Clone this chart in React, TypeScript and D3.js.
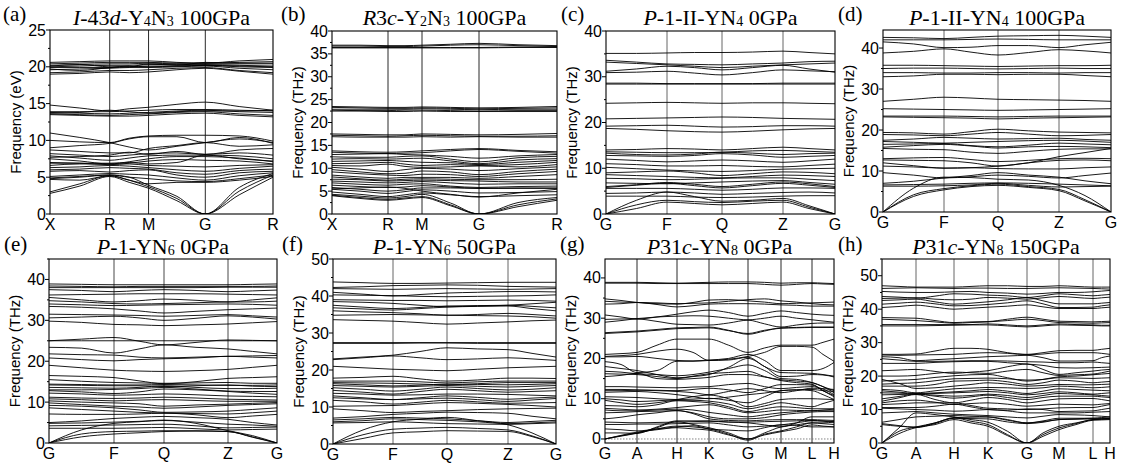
import React from 'react';
import * as d3 from 'd3';

// ---------------- DATA ----------------
// Values at every high-symmetry point and the midpoint of every segment.

const kLabelsA = ['X', 'R', 'M', 'G', 'R'];
const kDistA = [0, 60, 99, 156, 224];
const bandsA: number[][] = [
  [19.0, 19.1, 19.3, 19.2, 19.3, 19.6, 19.8, 19.4, 19.0],
  [19.2, 19.3, 19.5, 19.5, 19.6, 19.8, 19.9, 19.5, 19.2],
  [19.6, 19.7, 19.8, 19.9, 19.9, 20.0, 20.1, 19.8, 19.6],
  [19.9, 19.9, 19.9, 20.0, 20.1, 20.1, 20.2, 20.0, 19.9],
  [20.0, 20.1, 20.2, 20.2, 20.3, 20.3, 20.3, 20.2, 20.1],
  [20.2, 20.3, 20.4, 20.4, 20.5, 20.4, 20.4, 20.4, 20.4],
  [20.4, 20.5, 20.6, 20.6, 20.6, 20.5, 20.5, 20.6, 20.7],
  [20.6, 20.7, 20.8, 20.8, 20.8, 20.6, 20.5, 20.8, 21.0],
  [20.1, 20.3, 20.0, 20.0, 20.4, 20.2, 20.6, 20.5, 20.5],
  [19.7, 19.5, 19.9, 20.1, 20.0, 20.1, 20.2, 20.1, 20.0],
  [14.8, 14.4, 14.0, 14.3, 14.5, 14.9, 15.2, 14.6, 14.1],
  [13.9, 13.9, 13.9, 14.0, 14.1, 14.2, 14.2, 14.1, 14.0],
  [13.8, 13.7, 13.6, 13.7, 13.8, 14.0, 14.1, 13.9, 13.8],
  [13.6, 13.5, 13.4, 13.5, 13.6, 13.8, 13.9, 13.6, 13.4],
  [13.5, 13.4, 13.3, 13.3, 13.4, 13.6, 13.7, 13.4, 13.2],
  [13.7, 13.8, 14.1, 13.9, 13.7, 13.9, 14.0, 14.0, 14.1],
  [11.0, 10.4, 9.7, 9.1, 8.7, 9.2, 9.7, 10.2, 9.7],
  [10.0, 9.8, 9.7, 10.3, 10.6, 10.7, 10.7, 10.6, 9.9],
  [9.0, 9.3, 9.6, 10.2, 10.5, 10.5, 9.7, 10.4, 9.6],
  [8.7, 8.5, 8.3, 8.3, 8.9, 9.3, 9.7, 9.2, 9.4],
  [8.2, 8.0, 7.8, 8.0, 8.2, 8.3, 8.1, 8.3, 8.0],
  [7.9, 7.6, 7.3, 7.6, 7.9, 8.0, 8.0, 7.9, 7.5],
  [7.5, 7.2, 6.8, 7.1, 7.5, 7.8, 7.8, 7.6, 7.1],
  [7.0, 6.9, 6.7, 6.9, 7.2, 7.4, 7.3, 7.2, 6.8],
  [6.6, 6.8, 6.8, 6.8, 6.6, 6.5, 6.4, 6.6, 6.7],
  [6.3, 6.4, 6.6, 6.5, 6.3, 6.0, 5.8, 6.2, 6.5],
  [6.0, 6.1, 6.3, 6.2, 6.1, 5.6, 5.4, 5.9, 6.1],
  [5.8, 5.9, 5.7, 5.9, 6.0, 5.3, 5.0, 5.6, 5.8],
  [5.1, 5.3, 5.5, 5.4, 5.3, 4.9, 4.6, 5.2, 5.6],
  [4.9, 5.1, 5.3, 5.0, 4.8, 4.5, 4.4, 4.8, 5.3],
  [4.7, 4.6, 5.2, 4.6, 4.1, 4.3, 4.3, 4.6, 5.1],
  [6.9, 6.9, 6.9, 7.0, 6.8, 7.0, 8.0, 7.5, 7.2],
  [7.7, 7.8, 8.0, 8.4, 8.1, 8.5, 8.1, 8.7, 8.9],
  [2.8, 3.8, 5.1, 4.3, 3.5, 1.8, 0, 2.6, 5.0],
  [3.0, 4.1, 5.2, 4.6, 3.7, 2.1, 0, 3.1, 5.3],
  [4.8, 5.0, 5.3, 5.0, 3.9, 2.4, 0, 3.6, 5.5],
];

const kLabelsB = ['X', 'R', 'M', 'G', 'R'];
const kDistB = [0, 56, 90, 147, 225];
const bandsB: number[][] = [
  [36.9, 36.9, 36.8, 36.8, 36.9, 37.1, 37.3, 37.0, 36.8],
  [36.7, 36.7, 36.6, 36.6, 36.7, 36.9, 37.0, 36.8, 36.6],
  [36.4, 36.4, 36.4, 36.4, 36.4, 36.4, 36.4, 36.5, 36.5],
  [36.3, 36.3, 36.3, 36.3, 36.3, 36.3, 36.3, 36.4, 36.4],
  [23.5, 23.4, 23.3, 23.3, 23.4, 23.3, 23.2, 23.3, 23.5],
  [23.3, 23.2, 23.1, 23.1, 23.2, 23.1, 23.0, 23.1, 23.2],
  [22.9, 22.9, 22.9, 22.9, 23.0, 22.9, 22.8, 22.9, 22.9],
  [22.7, 22.6, 22.6, 22.7, 22.7, 22.6, 22.5, 22.6, 22.6],
  [22.5, 22.5, 22.4, 22.4, 22.5, 22.4, 22.4, 22.4, 22.4],
  [17.5, 17.4, 17.3, 17.3, 17.5, 17.4, 17.3, 17.4, 17.6],
  [17.2, 17.1, 17.0, 17.1, 17.2, 17.1, 17.0, 17.0, 17.1],
  [16.9, 16.8, 16.8, 16.8, 16.9, 16.8, 16.9, 16.8, 16.8],
  [13.8, 13.6, 13.5, 13.6, 13.8, 14.1, 14.3, 13.9, 13.6],
  [13.5, 13.3, 13.2, 13.3, 13.4, 13.8, 14.1, 13.7, 13.3],
  [13.0, 13.1, 13.2, 13.0, 12.9, 12.6, 12.2, 12.7, 13.0],
  [12.5, 12.4, 12.4, 12.6, 12.7, 12.0, 11.4, 12.3, 12.6],
  [12.0, 12.1, 12.0, 12.1, 12.2, 11.6, 11.0, 11.8, 12.1],
  [11.5, 11.6, 11.7, 11.5, 11.3, 11.2, 10.8, 11.3, 11.7],
  [11.0, 11.1, 11.3, 10.9, 10.6, 10.8, 10.6, 10.8, 11.3],
  [10.6, 10.5, 10.9, 10.4, 10.2, 10.3, 10.5, 10.3, 10.8],
  [10.2, 9.8, 9.3, 9.7, 10.0, 9.8, 9.5, 9.9, 10.3],
  [9.7, 9.2, 8.8, 8.9, 9.4, 9.2, 8.6, 9.3, 9.8],
  [9.2, 8.8, 8.5, 8.4, 8.7, 8.6, 8.2, 8.8, 9.3],
  [8.5, 8.1, 7.8, 8.0, 8.0, 8.0, 7.8, 8.2, 8.6],
  [8.1, 7.7, 7.4, 7.6, 7.7, 7.6, 7.5, 7.5, 7.6],
  [7.6, 7.5, 7.2, 7.3, 7.4, 7.3, 7.2, 7.0, 7.0],
  [7.2, 7.0, 6.8, 6.9, 7.1, 6.8, 6.5, 6.6, 6.6],
  [6.8, 6.5, 6.3, 6.5, 6.6, 6.1, 5.8, 6.0, 6.1],
  [6.3, 6.0, 5.8, 5.9, 6.2, 5.9, 5.6, 5.7, 5.7],
  [5.8, 5.4, 5.0, 5.3, 5.7, 5.7, 5.6, 5.6, 5.6],
  [5.4, 5.0, 4.5, 4.9, 5.3, 5.0, 4.6, 4.7, 4.9],
  [4.8, 4.3, 3.8, 4.2, 4.6, 4.2, 3.8, 4.0, 4.2],
  [5.5, 5.7, 5.9, 5.6, 5.0, 4.3, 3.7, 4.6, 5.4],
  [4.1, 3.6, 3.2, 3.5, 3.8, 2.0, 0, 2.0, 3.3],
  [4.0, 3.4, 3.0, 3.3, 3.6, 1.8, 0, 1.6, 3.0],
  [4.3, 3.9, 3.5, 3.8, 4.3, 2.4, 0, 2.5, 3.6],
];

const kLabelsC = ['G', 'F', 'Q', 'Z', 'G'];
const kDistC = [0, 61, 116, 177, 229];
const bandsC: number[][] = [
  [35.1, 35.1, 35.2, 35.3, 35.3, 35.4, 35.6, 35.3, 35.0],
  [33.6, 33.2, 32.8, 32.7, 32.6, 32.8, 33.0, 33.3, 33.4],
  [33.2, 32.9, 32.6, 32.3, 32.0, 32.3, 32.6, 32.8, 33.0],
  [31.2, 31.7, 32.3, 32.0, 31.5, 32.0, 32.5, 31.7, 31.0],
  [30.9, 31.0, 31.2, 30.8, 30.4, 30.9, 31.5, 31.3, 31.1],
  [28.6, 28.6, 28.5, 28.5, 28.5, 28.5, 28.6, 28.6, 28.6],
  [28.4, 28.4, 28.4, 28.4, 28.4, 28.4, 28.4, 28.4, 28.4],
  [24.2, 24.3, 24.4, 24.3, 24.2, 24.3, 24.3, 24.2, 24.1],
  [20.8, 20.9, 21.0, 21.1, 21.2, 21.1, 20.9, 20.8, 20.7],
  [19.2, 19.3, 19.4, 19.2, 19.0, 19.1, 19.3, 19.3, 19.2],
  [18.7, 18.5, 18.2, 18.0, 17.9, 18.1, 18.4, 18.6, 18.7],
  [14.0, 14.1, 14.3, 14.2, 14.0, 14.3, 14.6, 14.3, 14.0],
  [13.6, 13.5, 13.4, 13.4, 13.5, 13.8, 13.9, 13.7, 13.5],
  [13.3, 13.0, 12.9, 13.1, 13.5, 13.3, 13.0, 13.2, 13.3],
  [12.8, 12.7, 12.6, 12.8, 13.2, 12.9, 12.4, 12.6, 12.8],
  [12.0, 11.7, 11.4, 11.6, 11.8, 11.6, 11.3, 11.6, 12.0],
  [11.0, 10.8, 10.5, 10.5, 10.6, 10.4, 10.3, 10.6, 10.9],
  [10.2, 9.9, 9.6, 9.4, 9.3, 9.5, 9.8, 9.9, 10.0],
  [9.0, 9.2, 9.4, 9.0, 8.4, 8.8, 9.2, 9.1, 8.8],
  [8.6, 8.4, 8.2, 8.0, 7.9, 8.2, 8.5, 8.4, 8.2],
  [7.8, 7.7, 7.5, 7.6, 7.8, 7.9, 7.9, 7.6, 7.3],
  [6.8, 6.7, 6.6, 6.8, 7.0, 7.2, 7.3, 6.9, 6.5],
  [6.0, 6.4, 6.9, 6.5, 6.0, 6.5, 7.0, 6.6, 6.0],
  [5.8, 6.3, 6.7, 6.2, 5.7, 6.2, 6.7, 6.3, 5.8],
  [5.6, 5.6, 5.6, 5.4, 5.2, 5.4, 5.7, 5.7, 5.6],
  [4.5, 4.6, 4.8, 4.6, 4.3, 4.5, 4.7, 4.8, 4.6],
  [3.9, 3.9, 3.9, 3.7, 3.6, 3.7, 3.9, 4.0, 4.0],
  [0, 3.0, 4.8, 3.8, 2.8, 3.0, 3.4, 1.8, 0],
  [0, 2.0, 3.0, 2.7, 2.5, 2.8, 3.0, 1.5, 0],
  [0, 1.2, 2.6, 2.3, 2.0, 2.3, 2.6, 1.2, 0],
];

const kLabelsD = ['G', 'F', 'Q', 'Z', 'G'];
const kDistD = [0, 61, 115, 176, 228];
const bandsD: number[][] = [
  [42.6, 42.5, 42.3, 42.6, 42.9, 43.0, 43.1, 42.9, 42.6],
  [42.0, 42.0, 42.0, 42.1, 42.2, 42.1, 42.0, 42.0, 42.0],
  [41.5, 41.0, 40.1, 40.2, 40.6, 40.6, 40.1, 40.8, 41.4],
  [38.8, 39.2, 39.8, 39.0, 38.3, 38.9, 39.6, 39.3, 38.8],
  [35.8, 35.8, 35.7, 35.6, 35.5, 35.6, 35.7, 35.7, 35.8],
  [35.0, 35.1, 35.1, 35.0, 34.9, 35.0, 35.1, 35.0, 35.0],
  [34.0, 34.0, 33.9, 33.9, 34.0, 34.0, 33.9, 34.0, 34.0],
  [33.0, 33.2, 33.6, 33.6, 33.5, 33.6, 33.6, 33.3, 33.0],
  [27.0, 27.5, 28.0, 27.8, 27.5, 27.4, 27.3, 27.2, 27.0],
  [25.2, 25.1, 25.0, 24.9, 24.8, 24.9, 25.0, 25.1, 25.2],
  [23.4, 23.4, 23.4, 23.3, 23.2, 23.3, 23.4, 23.4, 23.4],
  [23.2, 23.1, 23.0, 22.9, 22.7, 22.9, 23.0, 23.1, 23.2],
  [19.4, 19.3, 19.0, 19.6, 20.2, 19.8, 19.5, 19.4, 19.3],
  [18.9, 18.8, 18.6, 19.0, 19.4, 19.0, 18.6, 18.7, 18.9],
  [17.5, 17.8, 18.2, 18.0, 17.8, 17.9, 18.0, 17.7, 17.5],
  [17.2, 17.0, 16.8, 17.0, 17.2, 17.4, 17.5, 17.3, 17.0],
  [16.5, 16.6, 16.7, 16.2, 15.9, 16.3, 16.8, 16.6, 16.4],
  [15.8, 16.2, 16.5, 16.1, 15.6, 15.9, 16.0, 15.9, 15.7],
  [15.5, 15.3, 15.2, 14.6, 14.3, 14.8, 15.3, 15.4, 15.4],
  [13.0, 13.2, 13.3, 12.8, 12.3, 12.6, 13.0, 13.1, 13.0],
  [12.7, 12.6, 12.5, 12.0, 11.2, 12.0, 12.6, 12.7, 12.5],
  [12.0, 11.3, 10.7, 10.8, 11.2, 12.0, 13.5, 14.5, 15.5],
  [11.2, 11.0, 10.7, 10.8, 10.6, 10.5, 10.5, 10.8, 11.0],
  [9.6, 9.0, 8.3, 8.6, 9.0, 8.7, 8.3, 8.9, 9.5],
  [7.0, 7.5, 8.3, 8.9, 9.6, 9.0, 8.5, 7.6, 6.9],
  [6.6, 6.7, 6.8, 7.0, 7.1, 7.0, 6.8, 6.6, 6.4],
  [6.3, 6.3, 6.4, 6.6, 7.0, 6.5, 6.1, 6.2, 6.3],
  [0, 5.8, 8.5, 8.4, 8.0, 7.8, 6.5, 4.0, 0],
  [0, 4.2, 5.7, 6.4, 6.8, 6.2, 5.5, 3.0, 0],
  [0, 3.8, 5.4, 6.2, 6.5, 6.0, 5.2, 2.7, 0],
];

const kLabelsE = ['G', 'F', 'Q', 'Z', 'G'];
const kDistE = [0, 65, 115, 179, 228];
const bandsE: number[][] = [
  [38.9, 38.8, 38.7, 38.7, 38.7, 38.7, 38.7, 38.8, 38.9],
  [38.4, 38.3, 38.2, 38.3, 38.3, 38.3, 38.3, 38.3, 38.4],
  [38.0, 38.0, 38.0, 38.0, 38.0, 38.0, 38.1, 38.1, 38.1],
  [37.5, 37.3, 37.0, 37.3, 37.5, 37.3, 37.0, 37.2, 37.4],
  [36.2, 36.3, 36.4, 36.5, 36.5, 36.5, 36.4, 36.3, 36.2],
  [35.6, 35.0, 34.5, 34.8, 35.2, 34.9, 34.5, 35.0, 35.5],
  [34.8, 34.5, 34.1, 34.0, 34.1, 34.3, 34.5, 34.5, 34.7],
  [34.0, 33.8, 33.6, 33.7, 33.8, 33.9, 34.0, 33.9, 33.7],
  [33.4, 33.2, 32.8, 32.3, 31.8, 32.2, 32.6, 32.8, 33.0],
  [31.5, 31.4, 31.3, 31.2, 31.0, 31.2, 31.4, 31.1, 30.8],
  [30.6, 30.8, 31.0, 30.6, 30.0, 30.5, 31.1, 30.8, 30.3],
  [29.8, 29.5, 29.0, 28.9, 28.7, 28.9, 29.1, 29.4, 29.7],
  [25.0, 25.0, 25.0, 25.0, 25.0, 25.0, 25.0, 25.0, 25.0],
  [25.0, 25.4, 25.8, 24.9, 24.0, 24.6, 25.2, 25.1, 25.0],
  [23.4, 23.2, 22.0, 23.0, 24.0, 23.4, 23.0, 22.4, 21.8],
  [21.8, 21.6, 21.5, 21.0, 20.8, 21.0, 21.2, 21.3, 21.4],
  [20.8, 20.4, 20.1, 20.4, 20.6, 20.8, 21.2, 21.0, 20.8],
  [19.0, 18.4, 17.8, 17.6, 17.5, 17.7, 18.0, 18.5, 19.0],
  [16.5, 16.3, 16.0, 15.2, 14.5, 15.0, 15.8, 16.0, 16.2],
  [15.5, 15.1, 14.8, 14.7, 14.6, 14.7, 14.8, 14.6, 14.6],
  [14.4, 14.3, 14.2, 14.2, 14.3, 14.2, 14.1, 14.1, 14.2],
  [14.2, 14.1, 14.0, 14.0, 13.8, 14.0, 14.2, 13.9, 13.8],
  [13.6, 13.5, 13.4, 13.6, 14.0, 13.6, 13.3, 13.3, 13.4],
  [13.0, 13.0, 13.1, 13.3, 13.6, 13.2, 12.7, 12.6, 12.6],
  [12.8, 12.5, 12.1, 12.5, 13.2, 13.0, 12.6, 12.2, 11.9],
  [12.2, 12.0, 11.7, 11.8, 12.0, 11.8, 11.5, 11.4, 11.3],
  [11.2, 11.0, 10.9, 11.0, 11.2, 11.0, 10.7, 10.6, 10.5],
  [10.8, 10.6, 10.3, 10.5, 10.6, 10.4, 10.2, 10.2, 10.2],
  [10.3, 10.0, 9.8, 9.6, 9.0, 9.3, 9.5, 9.7, 9.9],
  [9.8, 9.4, 9.0, 8.8, 8.5, 8.8, 9.2, 9.4, 9.6],
  [9.2, 9.0, 8.6, 8.1, 7.5, 7.6, 7.8, 8.2, 8.6],
  [8.6, 8.2, 7.8, 7.5, 7.3, 7.2, 7.1, 7.4, 7.8],
  [7.1, 7.0, 7.0, 7.1, 7.3, 6.9, 6.2, 6.6, 7.0],
  [5.0, 5.4, 6.0, 6.3, 6.5, 6.2, 5.8, 5.0, 4.4],
  [4.8, 4.9, 5.1, 5.3, 5.5, 5.1, 4.6, 4.4, 4.1],
  [4.2, 4.3, 4.4, 4.5, 4.6, 4.2, 3.7, 3.8, 3.9],
  [3.6, 3.6, 3.6, 3.7, 3.8, 3.5, 3.2, 3.3, 3.4],
  [0, 3.2, 4.8, 5.2, 5.6, 4.8, 3.0, 1.8, 0],
  [0, 2.2, 2.8, 2.9, 3.0, 3.0, 2.8, 1.5, 0],
  [0, 1.5, 2.2, 2.5, 2.8, 2.9, 2.8, 1.4, 0],
];

const kLabelsF = ['G', 'F', 'Q', 'Z', 'G'];
const kDistF = [0, 60, 114, 175, 223];
const bandsF: number[][] = [
  [43.8, 43.6, 43.4, 43.4, 43.5, 43.6, 43.7, 43.7, 43.7],
  [42.3, 42.5, 42.8, 42.9, 43.0, 42.9, 42.6, 42.5, 42.4],
  [42.0, 41.9, 41.8, 41.9, 42.0, 41.9, 41.8, 41.9, 42.0],
  [41.0, 40.5, 40.0, 40.4, 40.8, 41.0, 41.2, 41.2, 41.1],
  [40.3, 40.2, 40.1, 39.9, 39.8, 39.9, 40.0, 40.1, 40.3],
  [39.0, 38.9, 38.8, 38.8, 38.7, 38.8, 38.9, 38.8, 38.6],
  [38.5, 38.3, 38.0, 37.5, 37.1, 37.3, 37.5, 37.9, 38.3],
  [37.5, 37.0, 36.6, 36.9, 37.3, 37.4, 37.5, 37.2, 36.8],
  [36.8, 36.5, 36.2, 36.6, 37.0, 37.2, 37.3, 36.6, 36.0],
  [36.0, 35.7, 35.5, 35.2, 34.8, 35.0, 35.3, 35.0, 34.6],
  [34.8, 34.9, 35.0, 34.9, 34.8, 34.7, 34.6, 34.4, 34.0],
  [33.6, 33.4, 33.2, 32.8, 32.4, 32.7, 33.0, 33.3, 33.5],
  [27.4, 27.4, 27.4, 27.4, 27.4, 27.4, 27.4, 27.4, 27.4],
  [27.2, 27.2, 27.2, 27.3, 27.3, 27.2, 27.2, 27.2, 27.2],
  [23.0, 23.5, 24.0, 25.0, 26.0, 25.7, 25.5, 24.5, 23.5],
  [22.8, 23.3, 23.8, 23.3, 22.8, 23.0, 23.3, 23.0, 22.6],
  [21.0, 20.6, 20.2, 20.0, 19.8, 20.2, 20.6, 20.8, 21.0],
  [17.8, 18.0, 18.3, 17.6, 17.0, 17.3, 17.8, 17.8, 17.7],
  [17.0, 17.0, 17.0, 16.8, 16.5, 16.8, 17.0, 17.0, 17.0],
  [16.6, 16.5, 16.4, 16.2, 16.0, 16.3, 16.6, 16.6, 16.6],
  [16.3, 16.0, 15.7, 15.9, 16.2, 16.1, 16.0, 16.1, 16.3],
  [15.8, 15.6, 15.4, 15.6, 15.8, 15.6, 15.4, 15.6, 15.8],
  [15.2, 14.8, 14.3, 14.8, 15.4, 15.0, 14.6, 14.8, 15.2],
  [14.5, 14.0, 13.5, 14.2, 14.8, 14.4, 14.0, 14.2, 14.4],
  [13.7, 13.5, 13.2, 13.3, 13.5, 13.5, 13.4, 13.2, 13.0],
  [13.0, 12.5, 12.0, 12.5, 13.0, 12.6, 12.1, 12.4, 12.7],
  [12.5, 12.2, 12.0, 12.2, 12.4, 12.0, 11.5, 11.9, 12.3],
  [11.8, 11.4, 10.8, 11.3, 11.8, 11.4, 11.0, 11.1, 11.2],
  [10.2, 10.3, 10.4, 10.8, 11.2, 11.0, 10.7, 10.4, 10.0],
  [9.5, 9.0, 8.5, 8.8, 9.0, 9.3, 9.5, 9.6, 9.7],
  [7.0, 7.4, 8.0, 8.3, 8.6, 8.5, 8.3, 7.5, 6.8],
  [6.5, 6.8, 7.2, 7.0, 6.8, 6.3, 5.8, 6.1, 6.4],
  [6.0, 6.3, 6.8, 6.6, 6.4, 6.0, 5.5, 5.7, 6.0],
  [5.7, 5.8, 6.0, 5.8, 5.5, 5.4, 5.3, 5.5, 5.7],
  [0, 3.8, 6.0, 6.7, 7.2, 6.3, 5.2, 3.0, 0],
  [0, 2.5, 4.0, 4.3, 4.5, 4.2, 3.8, 2.2, 0],
  [0, 1.5, 3.0, 3.3, 3.6, 3.5, 3.4, 2.0, 0],
];

const kLabelsG = ['G', 'A', 'H', 'K', 'G', 'M', 'L', 'H'];
const kDistG = [0, 32, 72, 104, 143, 176, 207, 229];
const bandsG: number[][] = [
  [38.9, 38.9, 38.9, 38.8, 38.7, 38.8, 38.9, 39.0, 39.0, 38.9, 38.7, 38.8, 38.8, 38.7, 38.6],
  [38.7, 38.7, 38.7, 38.6, 38.6, 38.6, 38.6, 38.6, 38.6, 38.4, 38.2, 38.4, 38.6, 38.5, 38.4],
  [34.8, 34.4, 33.9, 33.6, 33.5, 33.9, 34.5, 34.6, 34.3, 34.0, 33.6, 33.7, 33.8, 33.9, 34.0],
  [34.2, 34.0, 33.9, 33.8, 33.6, 33.7, 33.8, 34.2, 34.6, 34.8, 34.3, 34.0, 33.6, 33.4, 33.3],
  [33.5, 33.6, 33.9, 33.4, 32.8, 33.1, 33.5, 33.6, 33.6, 33.5, 33.3, 33.2, 33.0, 33.0, 33.0],
  [30.8, 30.3, 29.8, 30.3, 31.0, 31.6, 32.0, 31.4, 30.5, 31.2, 31.8, 31.4, 31.0, 30.8, 30.7],
  [29.7, 29.8, 29.9, 30.3, 30.5, 30.6, 30.5, 30.0, 29.6, 30.0, 30.5, 30.0, 29.6, 29.3, 29.0],
  [29.0, 29.4, 29.8, 29.2, 28.5, 28.4, 28.3, 28.8, 29.5, 28.6, 27.8, 28.3, 28.7, 28.8, 28.8],
  [26.4, 26.6, 26.8, 27.2, 27.6, 27.7, 27.8, 27.0, 26.0, 26.8, 27.6, 27.7, 27.8, 27.8, 27.8],
  [26.2, 26.4, 26.6, 27.0, 27.4, 27.5, 27.6, 26.9, 26.2, 27.0, 27.5, 27.6, 27.7, 27.7, 27.7],
  [21.0, 21.2, 21.5, 23.3, 24.8, 24.8, 24.8, 23.3, 21.5, 22.6, 23.3, 23.3, 23.3, 24.0, 24.8],
  [20.5, 20.7, 21.0, 21.8, 22.3, 21.5, 19.5, 19.8, 20.5, 21.5, 23.0, 23.0, 22.8, 21.0, 19.3],
  [20.4, 20.4, 20.5, 20.0, 19.5, 19.4, 19.6, 20.0, 21.0, 19.5, 17.0, 17.0, 17.0, 17.5, 19.0],
  [19.2, 18.5, 16.5, 17.0, 19.3, 19.3, 19.5, 19.6, 20.3, 18.0, 16.5, 16.4, 16.3, 16.0, 15.6],
  [18.0, 17.5, 17.0, 16.0, 15.2, 15.5, 16.0, 17.8, 20.0, 18.0, 15.5, 15.6, 16.0, 15.9, 15.4],
  [16.8, 16.6, 16.2, 16.0, 15.7, 16.0, 16.6, 17.5, 18.4, 17.0, 15.0, 14.8, 14.0, 13.0, 12.0],
  [16.2, 16.1, 16.0, 15.5, 15.0, 15.6, 16.2, 16.5, 16.8, 15.5, 14.5, 14.0, 13.6, 12.0, 10.8],
  [15.5, 15.8, 16.3, 15.0, 14.8, 15.0, 15.3, 16.0, 16.0, 15.4, 14.7, 14.4, 14.0, 13.0, 11.5],
  [13.0, 13.0, 12.9, 12.8, 12.7, 12.9, 13.0, 13.5, 13.8, 13.0, 12.5, 12.8, 13.0, 12.4, 11.0],
  [12.3, 12.3, 12.2, 12.1, 12.0, 12.3, 12.6, 12.2, 11.5, 12.5, 13.5, 13.5, 13.4, 12.0, 10.5],
  [12.0, 12.0, 12.1, 12.0, 11.8, 11.5, 11.0, 11.8, 12.5, 12.0, 11.5, 12.0, 12.6, 12.5, 12.3],
  [11.6, 11.7, 11.8, 11.5, 11.0, 10.5, 10.0, 10.4, 11.0, 11.4, 12.0, 12.2, 12.3, 12.0, 11.8],
  [10.5, 10.4, 10.3, 10.0, 9.8, 9.9, 10.1, 9.6, 9.0, 10.5, 12.0, 12.2, 12.0, 11.0, 9.8],
  [10.0, 9.7, 9.3, 9.5, 9.8, 10.5, 10.9, 10.0, 8.0, 8.8, 9.8, 10.0, 10.0, 9.9, 9.8],
  [9.6, 9.0, 8.6, 9.0, 9.6, 9.6, 9.4, 8.7, 7.5, 8.2, 9.0, 8.5, 8.0, 8.8, 9.6],
  [8.3, 8.2, 8.0, 8.5, 9.5, 9.3, 9.0, 8.0, 6.8, 7.5, 8.0, 7.8, 7.5, 7.5, 7.5],
  [7.6, 7.4, 7.2, 7.4, 7.8, 8.2, 8.5, 7.6, 6.5, 6.8, 7.2, 7.1, 7.0, 7.2, 7.4],
  [7.2, 7.0, 7.0, 7.2, 7.4, 7.2, 6.6, 6.0, 5.5, 6.0, 6.5, 6.8, 7.0, 7.0, 7.0],
  [6.5, 6.6, 6.8, 6.9, 7.0, 6.5, 5.5, 5.0, 5.0, 5.3, 6.0, 6.4, 6.7, 6.8, 6.8],
  [5.0, 5.4, 6.0, 6.5, 7.1, 6.3, 5.0, 4.6, 4.5, 4.7, 4.8, 4.8, 4.8, 4.7, 4.6],
  [4.2, 4.1, 4.0, 4.1, 4.2, 4.3, 4.4, 4.2, 4.2, 4.3, 4.4, 4.5, 4.6, 4.5, 4.3],
  [3.6, 3.6, 3.7, 3.7, 3.8, 3.9, 4.0, 3.5, 3.0, 3.2, 3.5, 4.0, 4.5, 4.4, 4.2],
  [2.5, 2.3, 2.0, 2.5, 3.0, 3.3, 2.5, 2.2, 2.0, 2.8, 3.5, 3.4, 3.0, 3.0, 3.0],
  [1.5, 1.5, 1.4, 3.0, 4.5, 4.5, 4.5, 4.2, 4.0, 3.5, 3.0, 4.0, 5.5, 5.5, 5.5],
  [0, 0.8, 1.5, 2.8, 4.3, 3.6, 2.8, 1.5, 0, 1.5, 3.0, 3.5, 4.0, 4.0, 4.2],
  [0, 0.7, 1.4, 2.5, 3.2, 3.0, 2.5, 1.2, -0.3, 1.2, 2.0, 3.0, 4.0, 3.8, 3.6],
  [0, 0.9, 1.7, 2.3, 2.8, 2.5, 2.2, 1.0, 0, 1.0, 1.8, 2.5, 3.5, 3.2, 3.0],
];

const kLabelsH = ['G', 'A', 'H', 'K', 'G', 'M', 'L', 'H'];
const kDistH = [0, 34, 72, 106, 145, 177, 211, 228];
const bandsH: number[][] = [
  [47.0, 46.8, 46.6, 46.6, 46.6, 46.8, 47.0, 47.0, 46.8, 46.8, 47.0, 46.8, 46.6, 46.6, 46.6],
  [46.2, 46.3, 46.4, 46.3, 46.2, 46.3, 46.3, 46.2, 46.2, 46.3, 46.4, 46.3, 46.2, 46.1, 46.0],
  [45.3, 45.1, 45.0, 45.0, 45.2, 45.3, 45.0, 44.8, 44.5, 44.7, 45.0, 45.0, 45.2, 45.4, 45.6],
  [43.8, 43.6, 43.3, 43.9, 44.6, 44.5, 44.2, 44.0, 43.5, 44.0, 44.6, 44.3, 44.0, 44.2, 44.4],
  [43.2, 43.3, 43.4, 43.0, 42.8, 43.0, 43.5, 43.3, 43.0, 43.4, 43.8, 43.5, 43.2, 43.4, 43.6],
  [42.6, 42.8, 43.0, 42.2, 41.5, 41.8, 42.2, 42.8, 43.5, 42.5, 41.6, 41.6, 41.6, 41.8, 42.0],
  [41.5, 41.8, 42.1, 41.6, 41.0, 41.1, 41.4, 41.9, 42.5, 41.6, 40.5, 40.5, 40.6, 41.0, 41.3],
  [40.5, 40.8, 41.2, 40.6, 40.0, 40.3, 40.6, 40.9, 41.3, 40.7, 40.2, 40.2, 40.2, 40.4, 40.6],
  [37.5, 37.4, 37.3, 36.6, 36.0, 36.2, 36.3, 37.0, 37.6, 37.0, 36.4, 36.3, 36.2, 36.3, 36.4],
  [37.0, 36.8, 36.6, 36.2, 35.8, 36.0, 36.2, 36.6, 37.0, 36.6, 36.0, 35.9, 35.8, 35.9, 36.0],
  [35.4, 35.4, 35.4, 35.4, 35.4, 35.4, 35.6, 35.3, 35.0, 35.3, 35.6, 35.4, 35.3, 35.2, 35.2],
  [35.0, 35.0, 35.0, 35.1, 35.2, 35.3, 35.3, 35.0, 34.7, 35.0, 35.3, 35.2, 35.1, 35.0, 35.0],
  [26.5, 26.5, 26.6, 27.5, 28.3, 28.3, 28.0, 27.0, 26.5, 27.0, 27.6, 27.7, 27.7, 28.0, 28.3],
  [26.3, 26.2, 26.3, 26.4, 26.5, 26.8, 27.0, 26.8, 26.4, 26.6, 27.0, 27.0, 27.0, 26.8, 26.5],
  [25.8, 25.5, 24.6, 24.9, 25.2, 25.5, 25.8, 26.0, 26.2, 25.5, 24.5, 24.5, 24.6, 25.5, 26.0],
  [25.2, 24.8, 24.4, 24.4, 24.5, 24.6, 24.6, 24.5, 24.3, 24.2, 24.0, 24.0, 24.2, 24.0, 23.8],
  [23.8, 23.8, 23.8, 24.1, 24.3, 24.4, 24.4, 24.0, 23.6, 23.2, 22.5, 22.4, 22.5, 22.6, 22.7],
  [21.6, 21.8, 22.0, 21.4, 20.8, 21.2, 21.6, 22.8, 23.6, 22.0, 20.5, 21.0, 21.5, 21.8, 22.0],
  [20.0, 20.0, 20.2, 20.8, 21.2, 21.0, 20.8, 21.5, 22.0, 21.0, 20.2, 20.4, 20.6, 21.0, 21.5],
  [18.5, 18.8, 19.0, 19.6, 20.1, 20.4, 20.5, 19.5, 18.5, 19.0, 19.8, 20.0, 20.4, 20.6, 20.8],
  [17.6, 17.8, 18.0, 18.6, 19.2, 19.3, 19.4, 19.2, 18.8, 19.0, 19.5, 19.4, 19.3, 19.4, 19.5],
  [17.0, 17.0, 17.0, 17.5, 18.5, 18.6, 18.8, 18.3, 17.5, 18.0, 18.8, 18.5, 18.0, 18.2, 18.4],
  [19.0, 17.8, 16.3, 16.5, 17.0, 17.5, 18.0, 17.6, 17.0, 17.2, 17.5, 17.4, 17.4, 17.5, 17.6],
  [16.0, 15.7, 15.0, 15.6, 16.2, 16.4, 16.6, 16.5, 16.3, 16.5, 17.0, 16.8, 16.5, 16.6, 16.8],
  [15.6, 15.2, 14.8, 15.0, 15.3, 15.6, 16.0, 15.5, 14.8, 15.5, 16.2, 16.0, 15.8, 15.7, 15.6],
  [15.0, 14.9, 14.7, 14.8, 15.0, 15.2, 15.4, 15.0, 14.4, 14.8, 15.3, 15.0, 14.6, 14.8, 15.0],
  [14.4, 14.5, 14.6, 14.3, 14.0, 14.2, 14.6, 14.2, 13.6, 14.2, 14.8, 14.6, 14.4, 14.2, 14.0],
  [13.2, 13.9, 14.6, 14.0, 13.4, 13.8, 14.3, 13.6, 13.0, 13.6, 14.0, 14.0, 14.0, 13.8, 13.6],
  [12.5, 13.5, 14.5, 13.0, 12.0, 12.8, 13.6, 13.0, 12.0, 12.6, 13.2, 13.3, 13.3, 13.0, 12.6],
  [12.0, 12.6, 12.8, 12.2, 11.5, 11.8, 12.0, 11.6, 11.0, 11.3, 11.6, 11.5, 11.4, 11.6, 11.8],
  [11.5, 11.7, 12.0, 12.0, 12.0, 11.2, 10.4, 10.2, 10.0, 10.2, 10.5, 10.6, 10.6, 11.0, 11.5],
  [10.6, 10.6, 10.6, 11.0, 11.6, 10.8, 10.0, 9.8, 10.2, 10.0, 9.4, 9.5, 9.6, 10.0, 10.4],
  [10.4, 10.2, 10.0, 9.8, 9.5, 9.7, 10.0, 9.6, 9.0, 9.0, 9.0, 9.0, 9.2, 9.3, 9.4],
  [9.0, 9.2, 9.4, 9.0, 8.6, 8.4, 8.2, 7.8, 7.5, 8.0, 8.5, 8.4, 8.2, 8.0, 7.8],
  [6.2, 7.0, 7.8, 8.0, 8.2, 8.0, 7.8, 6.8, 6.0, 6.6, 7.4, 7.4, 7.4, 7.6, 7.8],
  [5.5, 5.0, 4.8, 6.0, 7.6, 7.7, 7.8, 7.0, 6.0, 6.4, 7.0, 7.2, 7.4, 7.4, 7.4],
  [5.8, 5.2, 4.6, 5.8, 7.4, 7.3, 7.2, 6.3, 5.8, 6.2, 7.0, 7.1, 7.2, 7.2, 7.2],
  [0, 3.5, 4.8, 6.0, 7.5, 6.5, 5.5, 2.5, 0, 2.5, 4.5, 5.8, 7.0, 7.1, 7.2],
  [0, 2.8, 4.6, 5.5, 7.0, 6.0, 5.0, 2.2, 0, 2.0, 4.0, 5.5, 6.8, 6.9, 7.0],
  [0, 4.5, 9.0, 8.5, 7.8, 7.0, 6.2, 3.5, 0, 3.0, 5.0, 6.0, 7.0, 7.2, 7.4],
];

// Titles: [text, kind] kind: n normal, i italic, s subscript
type Part = [string, string];
const titleA: Part[] = [['I', 'i'], ['-43', 'n'], ['d', 'i'], ['-Y', 'n'], ['4', 's'], ['N', 'n'], ['3', 's'], [' 100GPa', 'n']];
const titleB: Part[] = [['R', 'i'], ['3', 'n'], ['c', 'i'], ['-Y', 'n'], ['2', 's'], ['N', 'n'], ['3', 's'], [' 100GPa', 'n']];
const titleC: Part[] = [['P', 'i'], ['-1-II-YN', 'n'], ['4', 's'], [' 0GPa', 'n']];
const titleD: Part[] = [['P', 'i'], ['-1-II-YN', 'n'], ['4', 's'], [' 100GPa', 'n']];
const titleE: Part[] = [['P', 'i'], ['-1-YN', 'n'], ['6', 's'], [' 0GPa', 'n']];
const titleF: Part[] = [['P', 'i'], ['-1-YN', 'n'], ['6', 's'], [' 50GPa', 'n']];
const titleG: Part[] = [['P', 'i'], ['31', 'n'], ['c', 'i'], ['-YN', 'n'], ['8', 's'], [' 0GPa', 'n']];
const titleH: Part[] = [['P', 'i'], ['31', 'n'], ['c', 'i'], ['-YN', 'n'], ['8', 's'], [' 150GPa', 'n']];

const letters = ['(a)', '(b)', '(c)', '(d)', '(e)', '(f)', '(g)', '(h)'];
const yLabelEV = 'Frequency (eV)';
const yLabelTHz = 'Frequency (THz)';

// ---------------- LAYOUT ----------------
const panels = [
  { l: 50, t: 30, r: 273, b: 214, dom: [0, 25], major: 5, minor: 2.5, kl: kLabelsA, kd: kDistA, bands: bandsA, title: titleA, lab: yLabelEV, vc: '#111', lx: 3 },
  { l: 332, t: 31, r: 557, b: 214, dom: [0, 40], major: 5, minor: 2.5, kl: kLabelsB, kd: kDistB, bands: bandsB, title: titleB, lab: yLabelTHz, vc: '#111', lx: 281 },
  { l: 606, t: 31, r: 835, b: 214, dom: [0, 40], major: 10, minor: 5, kl: kLabelsC, kd: kDistC, bands: bandsC, title: titleC, lab: yLabelTHz, vc: '#555', lx: 561 },
  { l: 883, t: 30, r: 1111, b: 212, dom: [0, 44.4], major: 10, minor: 5, kl: kLabelsD, kd: kDistD, bands: bandsD, title: titleD, lab: yLabelTHz, vc: '#555', lx: 838 },
  { l: 49, t: 259, r: 277, b: 443, dom: [0, 45], major: 10, minor: 5, kl: kLabelsE, kd: kDistE, bands: bandsE, title: titleE, lab: yLabelTHz, vc: '#333', lx: 4 },
  { l: 333, t: 259, r: 556, b: 444, dom: [0, 50], major: 10, minor: 5, kl: kLabelsF, kd: kDistF, bands: bandsF, title: titleF, lab: yLabelTHz, vc: '#555', lx: 282 },
  { l: 605, t: 259, r: 834, b: 443, dom: [-1, 44.7], major: 10, minor: 5, kl: kLabelsG, kd: kDistG, bands: bandsG, title: titleG, lab: yLabelTHz, vc: '#111', lx: 560, zero: true },
  { l: 882, t: 259, r: 1110, b: 443, dom: [0, 55], major: 10, minor: 5, kl: kLabelsH, kd: kDistH, bands: bandsH, title: titleH, lab: yLabelTHz, vc: '#555', lx: 838 },
];

const SANS = '"Liberation Sans", Arial, sans-serif';
const SERIF = '"Liberation Serif", "Times New Roman", serif';

function Title({ parts, x, y }: { parts: Part[]; x: number; y: number }) {
  const spans: React.ReactNode[] = [];
  let prevSub = false;
  parts.forEach((p, i) => {
    const [txt, kind] = p;
    let dy = 0;
    if (kind === 's') dy = prevSub ? 0 : 1;
    else if (prevSub) dy = -1;
    spans.push(
      <tspan key={i} dy={dy} fontStyle={kind === 'i' ? 'italic' : 'normal'} fontSize={kind === 's' ? 14 : 22}>
        {txt}
      </tspan>
    );
    prevSub = kind === 's';
  });
  return (
    <text x={x} y={y} textAnchor="middle" fontFamily={SERIF} fontSize={22} fill="#000">
      {spans}
    </text>
  );
}

function Panel({ p, idx }: { p: any; idx: number }) {
  const total = p.kd[p.kd.length - 1];
  const x = d3.scaleLinear().domain([0, total]).range([p.l, p.r]);
  const y = d3.scaleLinear().domain(p.dom).range([p.b, p.t]);
  const samples: number[] = [];
  for (let j = 0; j < p.kd.length - 1; j++) {
    samples.push(p.kd[j], (p.kd[j] + p.kd[j + 1]) / 2);
  }
  samples.push(total);
  const line = d3
    .line<number>()
    .x((_, i) => x(samples[i]))
    .y((v) => y(v))
    .curve(d3.curveMonotoneX);
  const majors = d3.range(Math.ceil(p.dom[0] / p.major) * p.major, p.dom[1] + 1e-6, p.major).map((v) => Math.max(0, v));
  const minors = d3.range(Math.ceil(p.dom[0] / p.minor) * p.minor, p.dom[1] + 1e-6, p.minor).filter((v) => Math.abs(v / p.major - Math.round(v / p.major)) > 1e-6 && v >= 0);
  const clipId = 'clip' + idx;
  const cy = (p.t + p.b) / 2;
  return (
    <g>
      <defs>
        <clipPath id={clipId}>
          <rect x={p.l} y={p.t} width={p.r - p.l} height={p.b - p.t} />
        </clipPath>
      </defs>
      <text x={p.lx} y={idx < 4 ? 21 : 251} fontFamily={SERIF} fontSize={21} fill="#000">
        {letters[idx]}
      </text>
      <Title parts={p.title} x={(p.l + p.r) / 2} y={idx < 4 ? 25 : 254} />
      {p.kd.slice(1, -1).map((k: number, i: number) => (
        <line key={'v' + i} x1={x(k)} x2={x(k)} y1={p.t} y2={p.b} stroke={p.vc} strokeWidth={0.9} />
      ))}
      {p.zero && <line x1={p.l} x2={p.r} y1={y(0)} y2={y(0)} stroke="#777" strokeWidth={0.9} strokeDasharray="1.5,1.5" />}
      <g clipPath={`url(#${clipId})`}>
        {p.bands.map((b: number[], i: number) => (
          <path key={i} d={line(b) || ''} fill="none" stroke="#000" strokeWidth={0.9} />
        ))}
      </g>
      <rect x={p.l} y={p.t} width={p.r - p.l} height={p.b - p.t} fill="none" stroke="#000" strokeWidth={1.1} />
      {majors.map((v: number) => (
        <g key={'m' + v}>
          <line x1={p.l - 4} x2={p.l} y1={y(v)} y2={y(v)} stroke="#000" strokeWidth={1} />
          <text x={p.l - 4} y={y(v) + 5.5} textAnchor="end" fontFamily={SANS} fontSize={16} fill="#000">
            {v}
          </text>
        </g>
      ))}
      {minors.map((v: number) => (
        <line key={'n' + v} x1={p.l - 2} x2={p.l} y1={y(v)} y2={y(v)} stroke="#000" strokeWidth={1} />
      ))}
      {p.kl.map((lab: string, i: number) => (
        <text key={'k' + i} x={x(p.kd[i])} y={p.b + 16} textAnchor="middle" fontFamily={SANS} fontSize={16} fill="#000">
          {lab}
        </text>
      ))}
      <text
        transform={`translate(${p.l - 29},${cy}) rotate(-90)`}
        textAnchor="middle"
        fontFamily={SANS}
        fontSize={15}
        fill="#000"
      >
        {p.lab}
      </text>
    </g>
  );
}

export default function App() {
  return (
    <svg width={1126} height={466} style={{ position: 'absolute', left: 0, top: 0, background: '#fff' }}>
      <rect width={1126} height={466} fill="#fff" />
      {panels.map((p, i) => (
        <Panel key={i} p={p} idx={i} />
      ))}
    </svg>
  );
}
